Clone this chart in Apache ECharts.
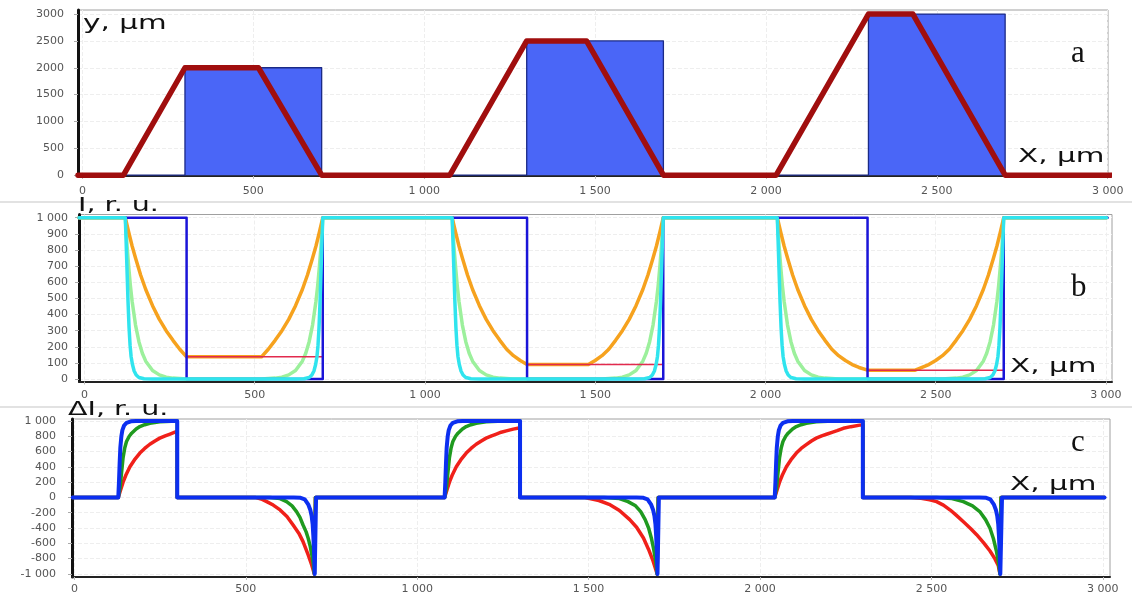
<!DOCTYPE html>
<html>
<head>
<meta charset="utf-8">
<script src="https://cdn.jsdelivr.net/npm/echarts@6/dist/echarts.min.js"></script>
<style>
html,body{margin:0;padding:0;background:#fff;}
#chart{width:1132px;height:596px;}
</style>
</head>
<body>
<div id="chart"></div>
<script>
// ---------- tick values ----------
const xTickValues = [0, 500, 1000, 1500, 2000, 2500, 3000];
const aYTicks = [0, 500, 1000, 1500, 2000, 2500, 3000];
const bYTicks = [0, 100, 200, 300, 400, 500, 600, 700, 800, 900, 1000];
const cYTicks = [-1000, -800, -600, -400, -200, 0, 200, 400, 600, 800, 1000];

// ---------- panel a: profile (red) and strips (blue) ----------
const aProfile = [[-13,0],[120,0],[300,2000],[515,2000],[700,0],[1075,0],[1300,2500],[1475,2500],[1700,0],[2030,0],[2300,3000],[2430,3000],[2700,0],[3010,0]];
const aStrip = [[-13,0],[300,0],[300,2000],[700,2000],[700,0],[1300,0],[1300,2500],[1700,2500],[1700,0],[2300,0],[2300,3000],[2700,3000],[2700,0],[3000,0]];

// ---------- panel b: intensity ----------
const bStep = [[-16,1000],[300,1000],[300,0],[700,0],[700,1000],[1300,1000],[1300,0],[1700,0],[1700,1000],[2300,1000],[2300,0],[2700,0],[2700,1000],[3005,1000]];
const bCyan = [[-16,1000],[120,1000],[122,880],[125,680],[128,480],[131,320],[134,210],[137,140],[141,90],[146,50],[152,25],[160,10],[175,2],[200,0],[620,0],[645,2],[660,10],[668,25],[674,50],[679,90],[683,140],[686,210],[689,320],[692,480],[695,680],[698,880],[700,1000],
  [1080,1000],[1082,880],[1085,680],[1088,480],[1091,320],[1094,210],[1097,140],[1101,90],[1106,50],[1112,25],[1120,10],[1135,2],[1160,0],[1620,0],[1645,2],[1660,10],[1668,25],[1674,50],[1679,90],[1683,140],[1686,210],[1689,320],[1692,480],[1695,680],[1698,880],[1700,1000],
  [2035,1000],[2037,880],[2040,680],[2043,480],[2046,320],[2049,210],[2052,140],[2056,90],[2061,50],[2067,25],[2075,10],[2090,2],[2115,0],[2620,0],[2645,2],[2660,10],[2668,25],[2674,50],[2679,90],[2683,140],[2686,210],[2689,320],[2692,480],[2695,680],[2698,880],[2700,1000],[3002,1000]];
const bGreen = [[-16,1000],[120,1000],[125,830],[130,695],[135,578],[140,482],[150,335],[160,232],[170,160],[180,111],[200,53],[220,26],[240,12],[260,6],[300,1],[520,1],[560,6],[580,12],[600,26],[620,53],[640,111],[650,160],[660,232],[670,335],[680,482],[685,578],[690,695],[695,830],[700,1000],
  [1080,1000],[1085,830],[1090,695],[1095,578],[1100,482],[1110,335],[1120,232],[1130,160],[1140,111],[1160,53],[1180,26],[1200,12],[1220,6],[1260,1],[1520,1],[1560,6],[1580,12],[1600,26],[1620,53],[1640,111],[1650,160],[1660,232],[1670,335],[1680,482],[1685,578],[1690,695],[1695,830],[1700,1000],
  [2035,1000],[2040,830],[2045,695],[2050,578],[2055,482],[2065,335],[2075,232],[2085,160],[2095,111],[2115,53],[2135,26],[2155,12],[2175,6],[2215,1],[2520,1],[2560,6],[2580,12],[2600,26],[2620,53],[2640,111],[2650,160],[2660,232],[2670,335],[2680,482],[2685,578],[2690,695],[2695,830],[2700,1000],[3002,1000]];
const bOrange = [[-16,1000],[120,1000],[130,910],[140,825],[150,750],[165,645],[180,555],[200,455],[220,370],[240,300],[260,240],[280,185],[300,138],[520,138],[540,185],[560,240],[580,300],[600,370],[620,455],[640,555],[655,645],[670,750],[680,825],[690,910],[700,1000],
  [1080,1000],[1090,910],[1100,825],[1110,750],[1125,645],[1140,555],[1160,455],[1180,370],[1200,300],[1220,240],[1240,185],[1260,145],[1280,115],[1300,90],[1480,90],[1500,115],[1520,145],[1540,185],[1560,240],[1580,300],[1600,370],[1620,455],[1640,555],[1655,645],[1670,750],[1680,825],[1690,910],[1700,1000],
  [2035,1000],[2045,910],[2055,825],[2065,750],[2080,645],[2095,555],[2115,455],[2135,370],[2155,300],[2175,240],[2195,185],[2215,145],[2235,115],[2255,90],[2275,72],[2300,55],[2440,55],[2460,72],[2480,90],[2500,115],[2520,145],[2540,185],[2560,240],[2580,300],[2600,370],[2620,455],[2640,555],[2655,645],[2670,750],[2680,825],[2690,910],[2700,1000],[3002,1000]];
const bRed = [[300,138],[700,138],[700,'-'],[1300,90],[1700,90],[1700,'-'],[2300,55],[2700,55]];

// ---------- panel c: intensity difference ----------
const cRed = [[-5,0],[128,0],[135,100],[142,200],[150,290],[162,400],[175,490],[191,580],[205,640],[220,695],[235,738],[249,775],[265,805],[279,828],[293,852],[300,862],[300,0],[527,0],[545,-20],[561,-55],[580,-100],[600,-163],[620,-250],[638,-360],[655,-470],[667,-578],[682,-752],[692,-880],[700,-1000],[703,0],
  [1080,0],[1087,100],[1094,200],[1102,290],[1114,400],[1127,490],[1143,580],[1157,640],[1172,695],[1187,738],[1201,775],[1217,805],[1231,828],[1245,852],[1260,870],[1280,893],[1300,910],[1300,0],[1490,0],[1500,-10],[1530,-40],[1560,-90],[1590,-170],[1620,-290],[1640,-390],[1660,-530],[1675,-680],[1688,-830],[1700,-1000],[1703,0],
  [2043,0],[2050,100],[2057,200],[2065,290],[2077,400],[2090,490],[2106,580],[2120,640],[2135,690],[2150,738],[2164,775],[2180,805],[2194,826],[2210,850],[2225,872],[2243,904],[2265,925],[2291,945],[2300,948],[2300,0],[2440,0],[2470,-12],[2495,-30],[2515,-55],[2535,-100],[2555,-165],[2573,-235],[2595,-325],[2615,-410],[2632,-487],[2652,-590],[2671,-700],[2685,-800],[2695,-890],[2700,-1000],[2703,0],[3005,0]];
const cGreen = [[-5,0],[128,0],[133,120],[137,300],[142,520],[147,650],[152,730],[160,800],[167,840],[180,895],[191,926],[205,950],[220,970],[249,990],[300,998],[300,0],[570,0],[600,-15],[619,-55],[635,-110],[648,-185],[658,-260],[667,-360],[676,-450],[682,-533],[688,-640],[693,-760],[697,-870],[700,-1000],[703,0],
  [1080,0],[1085,120],[1089,300],[1094,520],[1099,650],[1104,730],[1112,800],[1119,840],[1132,895],[1143,926],[1157,950],[1172,970],[1201,990],[1252,998],[1300,999],[1300,0],[1545,0],[1590,-15],[1615,-55],[1637,-110],[1652,-185],[1665,-290],[1675,-400],[1683,-530],[1690,-680],[1696,-840],[1700,-1000],[1703,0],
  [2043,0],[2048,120],[2052,300],[2057,520],[2062,650],[2067,730],[2075,800],[2082,840],[2095,895],[2106,926],[2120,950],[2135,970],[2164,990],[2215,998],[2300,999],[2300,0],[2515,0],[2560,-15],[2593,-55],[2620,-110],[2641,-185],[2658,-290],[2671,-403],[2681,-540],[2690,-708],[2696,-860],[2700,-1000],[2703,0],[3005,0]];
const cBlue = [[-5,0],[128,0],[130,200],[132,450],[134,650],[137,800],[140,880],[145,940],[152,975],[165,995],[180,1000],[300,1000],[300,0],[640,0],[660,-5],[672,-25],[682,-90],[688,-160],[692,-240],[695,-350],[697,-500],[699,-700],[701,-1000],[705,0],
  [1080,0],[1082,200],[1084,450],[1086,650],[1089,800],[1092,880],[1097,940],[1104,975],[1117,995],[1132,1000],[1300,1000],[1300,0],[1640,0],[1660,-5],[1672,-25],[1682,-90],[1688,-160],[1692,-240],[1695,-350],[1697,-500],[1699,-700],[1701,-1000],[1705,0],
  [2043,0],[2045,200],[2047,450],[2049,650],[2052,800],[2055,880],[2060,940],[2067,975],[2080,995],[2095,1000],[2300,1000],[2300,0],[2640,0],[2660,-5],[2672,-25],[2682,-90],[2688,-160],[2692,-240],[2695,-350],[2697,-500],[2699,-700],[2701,-1000],[2706,0],[3005,0]];

// ---------- helpers ----------
function fmtSpace(v) {
  const a = Math.abs(v);
  let s = String(a);
  if (s.length > 3) s = s.slice(0, s.length - 3) + ' ' + s.slice(-3);
  return (v < 0 ? '-' : '') + s;
}
const labelFont = { fontFamily: 'DejaVu Sans', fontSize: 11, color: '#555' };

function xAx(i, min, max, margin) {
  return {
    type: 'value', gridIndex: i, min: min, max: max,
    axisLine: { show: true, onZero: false, lineStyle: { color: '#222', width: 2 } },
    axisTick: { show: true, customValues: xTickValues, length: 3, lineStyle: { color: '#bbb' } },
    axisLabel: Object.assign({ customValues: xTickValues, formatter: fmtSpace, margin: margin }, labelFont),
    splitLine: { show: true, lineStyle: { color: '#eeeeee', type: 'dashed' } }
  };
}
function yAx(i, min, max, ticks, fmt, margin) {
  return {
    type: 'value', gridIndex: i, min: min, max: max,
    axisLine: { show: true, onZero: false, lineStyle: { color: '#111', width: 3 } },
    axisTick: { show: true, customValues: ticks, length: 4, lineStyle: { color: '#aaa' } },
    axisLabel: Object.assign({ customValues: ticks, formatter: fmt, margin: margin }, labelFont),
    splitLine: { show: true, lineStyle: { color: '#eeeeee', type: 'dashed' } }
  };
}
function line(xi, data, color, width, z, extra) {
  return Object.assign({
    type: 'line', xAxisIndex: xi, yAxisIndex: xi, data: data, symbol: 'none',
    lineStyle: { color: color, width: width, join: 'round', cap: 'round' },
    z: z, silent: true
  }, extra || {});
}
function title(text, x, y, fs, family, sx, fill) {
  return { type: 'text', x: x, y: y, scaleX: sx, z: 100,
    style: { text: text, fontFamily: family, fontSize: fs, fill: fill || '#111', verticalAlign: 'middle' } };
}

const chart = echarts.init(document.getElementById('chart'), null, { renderer: 'canvas' });
chart.setOption({
  animation: false,
  backgroundColor: '#fff',
  grid: [
    { left: 78, top: 10, width: 1030, height: 166, show: true, borderColor: '#a0a0a0', borderWidth: 1 },
    { left: 79, top: 214.5, width: 1033, height: 167, show: true, borderColor: '#a0a0a0', borderWidth: 1 },
    { left: 72, top: 419, width: 1038, height: 158, show: true, borderColor: '#a0a0a0', borderWidth: 1 }
  ],
  xAxis: [xAx(0, -13, 3001, 10), xAx(1, -16, 3018, 8), xAx(2, -7, 3021, 7)],
  yAxis: [
    yAx(0, -15, 3075, aYTicks, v => String(v), 14),
    yAx(1, -15, 1020, bYTicks, fmtSpace, 11),
    yAx(2, -1040, 1025, cYTicks, fmtSpace, 16)
  ],
  series: [
    line(0, aStrip, '#1b2a86', 1.3, 2, { areaStyle: { color: '#4a66f7', opacity: 1 } }),
    line(0, aProfile, '#a00e0e', 5.5, 3, { clip: false }),
    line(1, bGreen, '#9cf09c', 3.5, 2),
    line(1, bOrange, '#f6a21e', 3.5, 3),
    line(1, bRed, '#e22a4e', 1.5, 4),
    line(1, bStep, '#1a14d8', 2.5, 5),
    line(1, bCyan, '#30e4ee', 3.5, 6),
    line(2, cRed, '#f0201a', 3.5, 2),
    line(2, cGreen, '#1f9a1f', 3.5, 3),
    line(2, cBlue, '#0c2ff0', 4, 4)
  ],
  graphic: [
    { type: 'line', z: 50, shape: { x1: 0, y1: 202, x2: 1132, y2: 202 }, style: { stroke: '#e2e2e2', lineWidth: 2 } },
    { type: 'line', z: 50, shape: { x1: 0, y1: 407, x2: 1132, y2: 407 }, style: { stroke: '#e2e2e2', lineWidth: 2 } },
    title('y, µm', 83, 24, 19, 'DejaVu Sans', 1.55),
    title('I, r. u.', 78, 206, 19, 'DejaVu Sans', 1.5),
    title('ΔI, r. u.', 68, 410, 19, 'DejaVu Sans', 1.5),
    title('X, µm', 1018, 157, 19, 'DejaVu Sans', 1.55),
    title('X, µm', 1010, 367, 19, 'DejaVu Sans', 1.55),
    title('X, µm', 1010, 485, 19, 'DejaVu Sans', 1.55),
    title('a', 1071, 54, 31, 'Liberation Serif', 1),
    title('b', 1071, 288, 31, 'Liberation Serif', 1),
    title('c', 1071, 443, 31, 'Liberation Serif', 1)
  ]
});
</script>
</body>
</html>
